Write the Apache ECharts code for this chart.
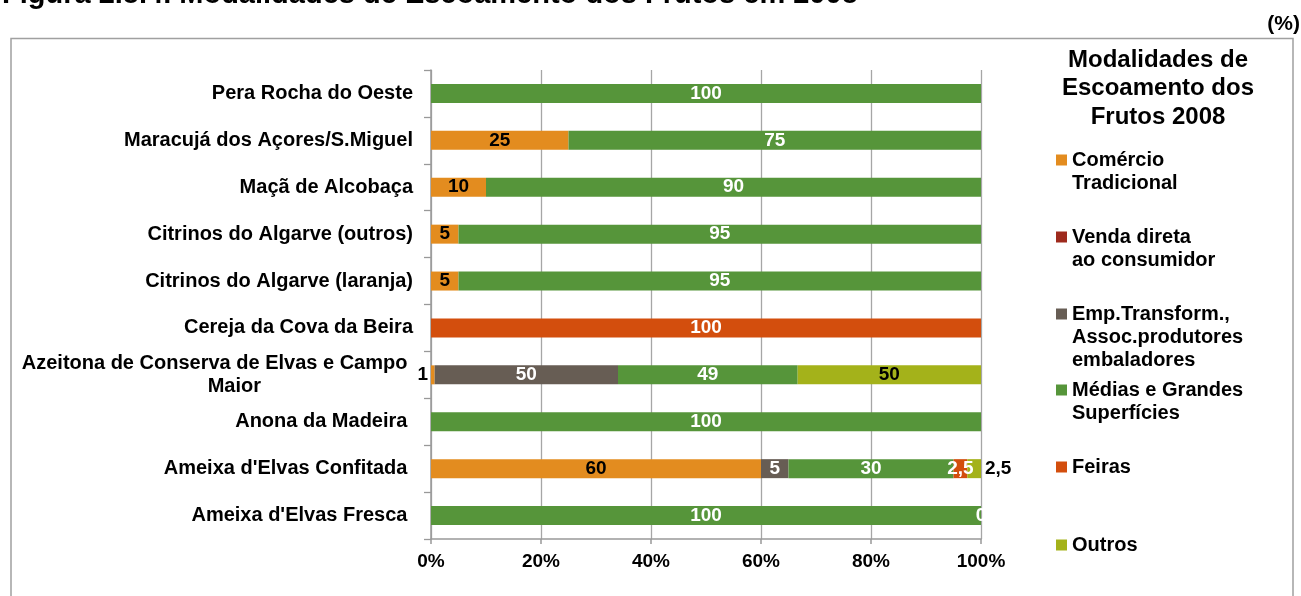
<!DOCTYPE html>
<html>
<head>
<meta charset="utf-8">
<script src="https://cdn.jsdelivr.net/npm/echarts@6/dist/echarts.min.js"></script>
<style>
html,body{margin:0;padding:0;background:#fff;}
#chart{width:1301px;height:596px;}
</style>
</head>
<body>
<div id="chart"></div>
<script>
// ---- data (top to bottom as in the figure) ----
const categories = [
  "Pera Rocha do Oeste",
  "Maracujá dos Açores/S.Miguel",
  "Maçã de Alcobaça",
  "Citrinos do Algarve (outros)",
  "Citrinos do Algarve (laranja)",
  "Cereja da Cova da Beira",
  "Azeitona de Conserva de Elvas e Campo Maior",
  "Anona da Madeira",
  "Ameixa d'Elvas Confitada",
  "Ameixa d'Elvas Fresca"
];
const seriesNames = [
  "Comércio Tradicional",
  "Venda direta ao consumidor",
  "Emp.Transform., Assoc.produtores embaladores",
  "Médias e Grandes Superfícies",
  "Feiras",
  "Outros"
];
const comercio = [null, 25, 10, 5, 5, null, 1, null, 60, null];
const venda    = [null, null, null, null, null, null, null, null, null, null];
const emp      = [null, null, null, null, null, null, 50, null, 5, null];
const medias   = [100, 75, 90, 95, 95, null, 49, 100, 30, 100];
const feiras   = [null, null, null, null, null, 100, null, null, 2.5, null];
const outros   = [null, null, null, null, null, null, 50, null, 2.5, 0];
const xTicks = [0, 20, 40, 60, 80, 100];
const chartTitle = "Figura 2.8.4. Modalidades de Escoamento dos Frutos em 2008";
const legendTitle = "Modalidades de\nEscoamento dos\nFrutos 2008";
const legendLabels = [
  "Comércio\nTradicional",
  "Venda direta\nao consumidor",
  "Emp.Transform.,\nAssoc.produtores\nembaladores",
  "Médias e Grandes\nSuperfícies",
  "Feiras",
  "Outros"
];
const axisLabels = [
  "Pera Rocha do Oeste",
  "Maracujá dos Açores/S.Miguel",
  "Maçã de Alcobaça",
  "Citrinos do Algarve (outros)",
  "Citrinos do Algarve (laranja)",
  "Cereja da Cova da Beira",
  "Azeitona de Conserva de Elvas e Campo \nMaior",
  "Anona da Madeira ",
  "Ameixa d'Elvas Confitada ",
  "Ameixa d'Elvas Fresca "
];

// ---- styling ----
const FONT = '"Liberation Sans", Arial, sans-serif';
const colors = ['#E38C1F', '#9E2A1D', '#675D54', '#56953A', '#D34E0D', '#A4B21A'];
const labelColors = ['#000', '#fff', '#fff', '#fff', '#fff', '#000'];
const allRows = [comercio, venda, emp, medias, feiras, outros];
const totals = categories.map((c, i) => allRows.reduce((s, r) => s + (r[i] || 0), 0));

function fmt(v) { return String(v).replace('.', ','); }

// special label placements (narrow segments)
const overrides = {
  '0-6': { position: 'left', distance: 3 },
  '5-8': { position: 'right', distance: 4, color: '#000' },
  '5-9': { color: '#fff' }
};

const series = allRows.map((row, si) => ({
  name: seriesNames[si],
  type: 'bar',
  stack: 'total',
  barWidth: 19,
  itemStyle: { color: colors[si] },
  label: {
    show: true,
    position: 'inside',
    color: labelColors[si],
    fontFamily: FONT,
    fontWeight: 'bold',
    fontSize: 19,
    formatter: p => (p.data && p.data.raw != null) ? fmt(p.data.raw) : ''
  },
  emphasis: { disabled: true },
  data: row.map((v, ci) => {
    if (v == null) return { value: null, raw: null };
    const item = { value: v / totals[ci] * 100, raw: v };
    const o = overrides[si + '-' + ci];
    if (o) item.label = o;
    return item;
  })
}));

const LH = 23;
const firstLineY = [160, 237, 314, 390, 467, 545];
const legends = seriesNames.map((n, i) => {
  const lines = legendLabels[i].split('\n');
  const k = lines.length;
  const text = '\n'.repeat(k - 1) + legendLabels[i];
  return {
    data: [n],
    orient: 'vertical',
    left: 1056,
    top: firstLineY[i] - LH * (2 * k - 1) / 2,
    padding: 0,
    icon: 'rect',
    itemWidth: 11,
    itemHeight: 11,
    selectedMode: false,
    formatter: () => text,
    textStyle: { fontFamily: FONT, fontWeight: 'bold', fontSize: 20, lineHeight: LH, color: '#000' }
  };
});

const chart = echarts.init(document.getElementById('chart'), null, { renderer: 'canvas' });
chart.setOption({
  animation: false,
  color: colors,
  grid: { left: 431, right: 320, top: 70, bottom: 57, containLabel: false },
  xAxis: {
    type: 'value',
    min: xTicks[0],
    max: xTicks[xTicks.length - 1],
    interval: xTicks[1] - xTicks[0],
    axisLine: { show: true, lineStyle: { color: '#999', width: 1.5 } },
    axisTick: { show: true, length: 5, lineStyle: { color: '#999', width: 1.5 } },
    splitLine: { show: true, lineStyle: { color: '#a6a6a6', width: 1.3 } },
    axisLabel: { formatter: '{value}%', color: '#000', fontFamily: FONT, fontWeight: 'bold', fontSize: 19, margin: 13 }
  },
  yAxis: {
    type: 'category',
    inverse: true,
    data: categories,
    axisLine: { show: true, lineStyle: { color: '#999', width: 1.5 } },
    axisTick: { show: true, length: 7, lineStyle: { color: '#999', width: 1.3 } },
    axisLabel: {
      color: '#000', fontFamily: FONT, fontWeight: 'bold', fontSize: 20, lineHeight: 23, margin: 18,
      formatter: (v, i) => {
        const t = axisLabels[i];
        if (t.indexOf('\n') < 0) return t;
        const parts = t.split('\n');
        return '{a|' + parts[0] + '}\n{b|' + parts[1] + '}';
      },
      rich: {
        a: { fontFamily: FONT, fontWeight: 'bold', fontSize: 20, lineHeight: 23, color: '#000' },
        b: { fontFamily: FONT, fontWeight: 'bold', fontSize: 20, lineHeight: 23, color: '#000', align: 'center', padding: [0, 0, 0, 34] }
      }
    }
  },
  legend: legends,
  graphic: [
    { type: 'rect', silent: true, z: -1, shape: { x: 11, y: 38.5, width: 1282, height: 600 },
      style: { fill: 'none', stroke: '#a0a0a0', lineWidth: 1.5 } },
    { type: 'text', silent: true, x: 2, y: -5,
      style: { text: chartTitle, font: 'bold 29px ' + FONT, fill: '#000', verticalAlign: 'middle', align: 'left' } },
    { type: 'text', silent: true, x: 1300, y: 24,
      style: { text: '(%)', font: 'bold 21px ' + FONT, fill: '#000', verticalAlign: 'middle', align: 'right' } },
    { type: 'text', silent: true, x: 1158, y: 46,
      style: { text: legendTitle, font: 'bold 24px ' + FONT, lineHeight: 28.5, fill: '#000', verticalAlign: 'top', align: 'center' } }
  ],
  series: series
});
</script>
</body>
</html>
